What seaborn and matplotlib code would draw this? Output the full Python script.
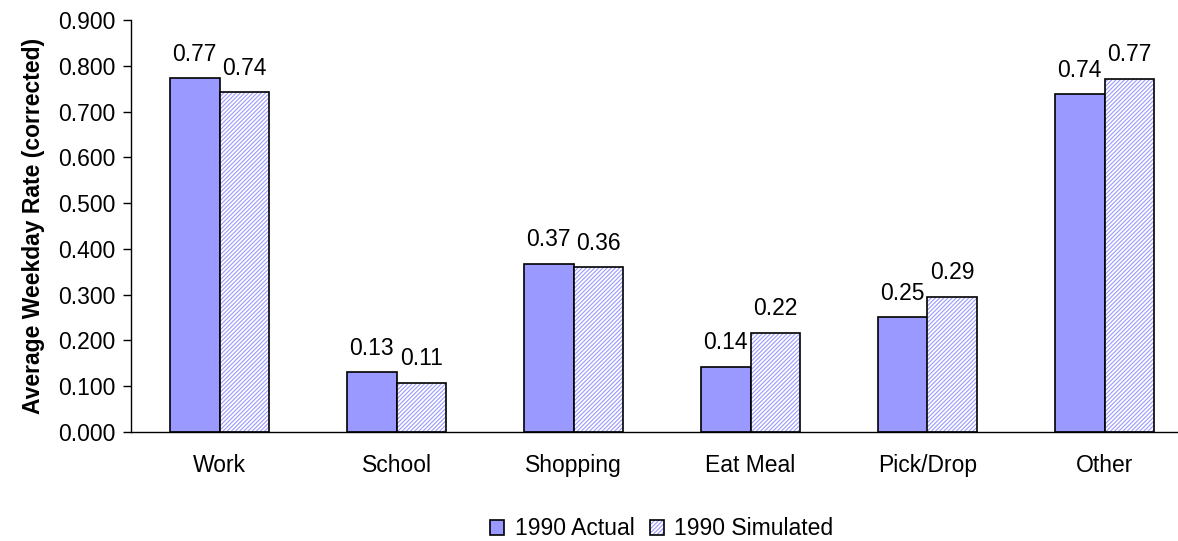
import pandas as pd
import matplotlib
matplotlib.use("Agg")
import matplotlib.pyplot as plt
import seaborn as sns
from matplotlib.patches import Rectangle, Patch

# average weekday rates by trip purpose
purposes = ["Work", "School", "Shopping", "Eat Meal", "Pick/Drop", "Other"]
actual = [0.773, 0.130, 0.368, 0.143, 0.251, 0.738]
simulated = [0.742, 0.108, 0.360, 0.217, 0.295, 0.772]
series = ["1990 Actual", "1990 Simulated"]

df = pd.DataFrame({
    "purpose": purposes * 2,
    "rate": actual + simulated,
    "series": [series[0]] * 6 + [series[1]] * 6,
})

sns.set_style("white")
plt.rcParams["font.family"] = ["Liberation Sans", "DejaVu Sans"]
plt.rcParams["text.color"] = "black"
plt.rcParams["axes.labelcolor"] = "black"
plt.rcParams["xtick.color"] = "black"
plt.rcParams["ytick.color"] = "black"
plt.rcParams["hatch.linewidth"] = 0.8

fs = 16.5
blue = "#9999FF"
hatch = "////////"

fig = plt.figure(figsize=(11.78, 5.41), dpi=100)
ax = fig.add_axes([131 / 1178, 109 / 541, 1062 / 1178, 412 / 541])

sns.barplot(data=df, x="purpose", y="rate", hue="series", palette=[blue, "white"],
            saturation=1, width=0.56, edgecolor="black", linewidth=1.2, legend=False, ax=ax)

# hatch the simulated bars with blue lines, keep black outline on top
for p in ax.containers[1]:
    p.set_edgecolor(blue)
    p.set_hatch(hatch)
    p.set_linewidth(0)
    ax.add_patch(Rectangle(p.get_xy(), p.get_width(), p.get_height(),
                           fill=False, edgecolor="black", linewidth=1.2, zorder=p.get_zorder() + 0.1))

for cont in ax.containers:
    ax.bar_label(cont, labels=[f"{v:.2f}" for v in cont.datavalues], padding=9, fontsize=fs)

ax.set_ylim(0, 0.9)
ax.set_xlim(-0.5, 5.5)
ax.set_yticks([i / 10 for i in range(10)])
ax.set_yticklabels([f"{i / 10:.3f}" for i in range(10)], fontsize=fs)
ax.set_xticks([i - 0.5 for i in range(7)])
ax.set_xticklabels([])
ax.set_xticks(range(6), minor=True)
ax.set_xticklabels(purposes, minor=True, fontsize=fs)
ax.tick_params(axis="x", which="minor", length=0, pad=16)
ax.tick_params(axis="x", which="major", length=6, width=1, direction="out")
ax.tick_params(axis="y", length=6, width=1, direction="out", pad=5, left=True)
ax.set_xlabel("")
ax.set_ylabel("Average Weekday Rate (corrected)", fontsize=fs, fontweight="bold")
ax.yaxis.set_label_coords(-0.081, 0.5)

sns.despine(ax=ax, top=True, right=True)
for s in ["left", "bottom"]:
    ax.spines[s].set_color("black")
    ax.spines[s].set_linewidth(1)

h_actual = Patch(facecolor=blue, edgecolor="black", linewidth=1.2)
h_sim = (Patch(facecolor="white", edgecolor=blue, hatch=hatch, linewidth=0),
         Patch(fill=False, edgecolor="black", linewidth=1.2))
ax.legend([h_actual, h_sim], series, loc="center", bbox_to_anchor=(0.5, -0.235), ncol=2,
          frameon=False, fontsize=fs, handlelength=0.6, handleheight=0.6,
          handletextpad=0.45, columnspacing=0.7)

fig.savefig("out.png", dpi=100)
